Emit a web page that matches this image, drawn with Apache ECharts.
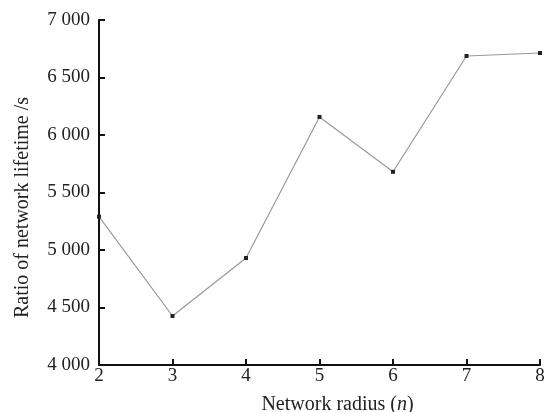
<!DOCTYPE html>
<html>
<head>
<meta charset="utf-8">
<script src="https://cdn.jsdelivr.net/npm/echarts@6/dist/echarts.min.js"></script>
<style>
html, body { margin: 0; padding: 0; background: #fff; }
#chart { width: 548px; height: 412px; }
</style>
</head>
<body>
<div id="chart"></div>
<script>
var radius = [2, 3, 4, 5, 6, 7, 8];
var lifetime = [5290, 4426, 4930, 6157, 5680, 6687, 6713];

var chart = echarts.init(document.getElementById('chart'));

function fmtThousands(v) {
    var s = String(v);
    if (s.length > 3) {
        s = s.slice(0, s.length - 3) + ' ' + s.slice(s.length - 3);
    }
    return s;
}

var points = [];
for (var i = 0; i < radius.length; i++) {
    points.push([radius[i], lifetime[i]]);
}

chart.setOption({
    animation: false,
    textStyle: { fontFamily: 'Liberation Serif' },
    grid: { left: 99, right: 8, top: 20, bottom: 47, outerBoundsMode: 'none' },
    xAxis: {
        type: 'value',
        min: 2,
        max: 8,
        interval: 1,
        name: '{a|Network radius (}{i|n}{a|)}',
        nameLocation: 'middle',
        nameGap: 30,
        nameTextStyle: {
            padding: [0, 0, 0, 36],
            rich: {
                a: { fontFamily: 'Liberation Serif', fontSize: 20, color: '#222' },
                i: { fontFamily: 'Liberation Serif', fontSize: 20, fontStyle: 'italic', color: '#222' }
            }
        },
        axisLine: { lineStyle: { color: '#111', width: 2 } },
        axisTick: { inside: true, length: 6, lineStyle: { color: '#111', width: 2 } },
        axisLabel: { color: '#222', fontSize: 19, margin: 2, fontFamily: 'Liberation Serif' },
        splitLine: { show: false }
    },
    yAxis: {
        type: 'value',
        min: 4000,
        max: 7000,
        interval: 500,
        name: 'Ratio of network lifetime /s',
        nameLocation: 'middle',
        nameRotate: 90,
        nameGap: 66,
        nameTextStyle: { fontFamily: 'Liberation Serif', fontSize: 20, color: '#222', padding: [0, 30, 0, 0] },
        axisLine: { lineStyle: { color: '#111', width: 2 } },
        axisTick: { inside: true, length: 6, lineStyle: { color: '#111', width: 2 } },
        axisLabel: {
            color: '#222', fontSize: 19, margin: 9, fontFamily: 'Liberation Serif',
            formatter: fmtThousands
        },
        splitLine: { show: false }
    },
    series: [{
        type: 'line',
        data: points,
        symbol: 'rect',
        symbolSize: 4,
        itemStyle: { color: '#222' },
        lineStyle: { color: '#999', width: 1.2 }
    }]
});
</script>
</body>
</html>
